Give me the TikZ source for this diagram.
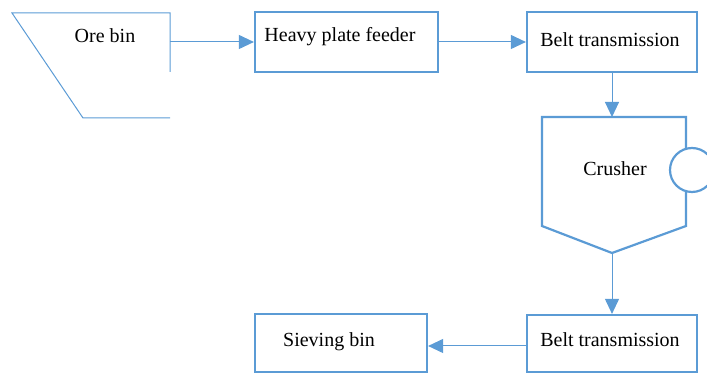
\documentclass[tikz,border=0pt]{standalone}
\usepackage{fontspec}
\setmainfont{Liberation Serif}
\usetikzlibrary{arrows.meta}
\definecolor{flowblue}{RGB}{91,155,213}
\begin{document}
\begin{tikzpicture}[x=1pt,y=1pt,
  boxst/.style={draw=flowblue,line width=2.2pt,fill=white,inner sep=0pt},
  lbl/.style={font=\fontsize{20}{24}\selectfont,inner sep=0pt,text=black},
  conn/.style={draw=flowblue,line width=1pt,-{Triangle[length=15pt,width=14pt]}},
  thin/.style={draw=flowblue,line width=1pt}]
\useasboundingbox (0,0) rectangle (707,374);
% Ore bin
\coordinate (obTL) at (12,361);
\coordinate (obTR) at (170,361);
\coordinate (obMR) at (170,302);
\coordinate (obBL) at (83,256);
\coordinate (obBR) at (170,256);
\coordinate (obOut) at (170,332);
\draw[thin] (obMR) -- (obTR) -- (obTL) -- (obBL) -- (obBR);
\node[lbl] (obt) at (105,338) {Ore bin};
% Heavy plate feeder
\node[boxst,minimum width=183pt,minimum height=60pt] (hpf) at (346.5,332) {};
\node[lbl] (hpft) at (340,337) {Heavy plate feeder};
% Belt transmission top
\node[boxst,minimum width=170pt,minimum height=60pt] (bt1) at (612,332) {};
\node[lbl] (bt1t) at (610,334) {Belt transmission};
% Crusher
\coordinate (crTL) at (542,257);
\coordinate (crTR) at (686,257);
\coordinate (crBR) at (686,148);
\coordinate (crBL) at (542,148);
\coordinate (crB) at (612,121);
\coordinate (crT) at (612,257);
\draw[flowblue,line width=2.2pt,line join=miter] (crTL) -- (crTR) -- (crBR) -- (crB) -- (crBL) -- cycle;
\node[draw=flowblue,line width=2.2pt,fill=white,circle,minimum size=44pt,inner sep=0pt] (motor) at (692,204) {};
\node[lbl] (crt) at (615,205) {Crusher};
% Belt transmission bottom
\node[boxst,minimum width=170pt,minimum height=57pt] (bt2) at (612,30.5) {};
\node[lbl] (bt2t) at (610,34) {Belt transmission};
% Sieving bin
\node[boxst,minimum width=172pt,minimum height=58pt] (sb) at (341,31) {};
\node[lbl] (sbt) at (329,32) {Sieving bin};
% Connectors
\draw[conn] (obOut) -- (hpf.west);
\draw[conn] (hpf.east) -- (bt1.west);
\draw[conn] (bt1.south) -- (crT);
\draw[conn] (crB) -- (bt2.north);
\draw[conn] (bt2.west |- 0,28) -- (sb.east |- 0,28);
\end{tikzpicture}
\end{document}
